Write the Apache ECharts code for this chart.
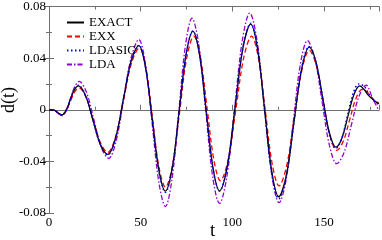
<!DOCTYPE html>
<html><head><meta charset="utf-8">
<script src="https://cdn.jsdelivr.net/npm/echarts@6/dist/echarts.min.js"></script>
<style>html,body{margin:0;padding:0;background:#fff}#c{width:382px;height:240px}</style>
</head><body><div id="c"></div>
<script>
const seriesNames = ['EXACT', 'EXX', 'LDASIC', 'LDA'];
const xTickLabels = ['0', '50', '100', '150'];
const yTickLabels = ['-0.08', '-0.04', '0', '0.04', '0.08'];

const exactT = [0, 3, 5, 7, 9.25, 11.5, 13.75, 16, 20, 24, 28, 32, 36.25, 40.5, 44.75, 49, 52.6, 56.25, 59.9, 63.5, 67.25, 71, 74.75, 78.5, 82.1, 85.75, 89.4, 93, 97.25, 101.5, 105.75, 110, 113.8, 117.65, 121.5, 125.3, 129.5, 133.65, 137.8, 142, 145.6, 149.25, 152.9, 156.5, 159.75, 163, 166.25, 169.5, 172, 174, 177, 180];
const exactV = [0, -0.0005, -0.0025, -0.004, -0.0007, 0.0073, 0.0152, 0.0185, 0.0107, -0.0081, -0.0268, -0.0346, -0.0223, 0.0076, 0.0374, 0.0497, 0.0332, -0.0067, -0.0465, -0.063, -0.0449, -0.0011, 0.0427, 0.0608, 0.0427, -0.001, -0.0447, -0.0628, -0.0439, 0.0018, 0.0475, 0.0664, 0.0468, -0.0005, -0.0478, -0.0674, -0.0504, -0.0095, 0.0315, 0.0485, 0.0371, 0.0098, -0.0176, -0.029, -0.022, -0.0053, 0.0115, 0.0185, 0.0155, 0.0115, 0.0075, 0.0046];

const exxT = [0, 3, 5, 7, 9.3, 11.65, 14, 16.3, 20.2, 24.15, 28.1, 32, 36.3, 40.65, 45, 49.3, 52.85, 56.4, 59.95, 63.5, 67.4, 71.25, 75.1, 79, 82.6, 86.25, 89.9, 93.5, 97.75, 102, 106.25, 110.5, 114.25, 118, 121.75, 125.5, 129.6, 133.75, 137.9, 142, 145.75, 149.5, 153.25, 157, 160.5, 164, 167.5, 171, 174, 177, 180];
const exxV = [0, -0.0005, -0.0026, -0.0042, -0.0011, 0.0064, 0.0139, 0.017, 0.0097, -0.008, -0.0257, -0.033, -0.0211, 0.0075, 0.0361, 0.048, 0.0322, -0.006, -0.0442, -0.06, -0.0429, -0.0015, 0.0399, 0.057, 0.0406, 0.001, -0.0386, -0.055, -0.0386, 0.001, 0.0406, 0.057, 0.040, -0.001, -0.042, -0.059, -0.0436, -0.0065, 0.0306, 0.046, 0.0347, 0.0073, -0.0201, -0.0315, -0.0245, -0.0078, 0.009, 0.016, 0.013, 0.008, 0.005];

const ldasicT = [0, 3, 5, 7, 9.25, 11.5, 13.75, 16, 20, 24, 28, 32, 36.25, 40.5, 44.75, 49, 52.6, 56.25, 59.9, 63.5, 67.25, 71, 74.75, 78.5, 82.1, 85.75, 89.4, 93, 97.25, 101.5, 105.75, 110, 113.8, 117.65, 121.5, 125.3, 129.4, 133.55, 137.7, 141.8, 145.5, 149.15, 152.8, 156.5, 159.6, 162.75, 165.9, 169, 172, 175, 178, 180];
const ldasicV = [0, -0.0005, -0.0025, -0.004, -0.0006, 0.0075, 0.0156, 0.019, 0.0111, -0.008, -0.0271, -0.035, -0.0226, 0.0075, 0.0376, 0.050, 0.0333, -0.007, -0.0473, -0.064, -0.0457, -0.0015, 0.0427, 0.061, 0.0428, -0.001, -0.0448, -0.063, -0.044, 0.002, 0.048, 0.067, 0.0471, -0.001, -0.0491, -0.069, -0.0517, -0.010, 0.0317, 0.049, 0.0374, 0.0095, -0.0184, -0.030, -0.0227, -0.005, 0.0127, 0.020, 0.018, 0.011, 0.006, 0.004];

const ldaT = [0, 3, 5, 7, 9.4, 11.75, 14.1, 16.5, 20.5, 24.5, 28.5, 32.5, 36.6, 40.75, 44.9, 49, 52.6, 56.25, 59.9, 63.5, 67.1, 70.75, 74.4, 78, 81.75, 85.5, 89.25, 93, 97.1, 101.25, 105.4, 109.5, 113.5, 117.5, 121.5, 125.5, 129.4, 133.25, 137.1, 141, 145, 149, 153, 157, 161, 165, 169, 173, 176.5, 180];
const ldaV = [0, -0.0005, -0.0028, -0.0045, -0.0006, 0.0088, 0.0181, 0.022, 0.0133, -0.0079, -0.029, -0.0377, -0.0242, 0.0084, 0.0409, 0.0544, 0.0354, -0.0103, -0.056, -0.075, -0.0536, -0.002, 0.0496, 0.071, 0.050, -0.0008, -0.0516, -0.0726, -0.051, 0.0012, 0.0533, 0.0749, 0.0534, 0.0015, -0.0505, -0.072, -0.0536, -0.0092, 0.0352, 0.0536, 0.0396, 0.0059, -0.0278, -0.0418, -0.0329, -0.0114, 0.0101, 0.019, 0.009, -0.001];

const pairs = (t, v) => t.map((x, i) => [x, v[i]]);
const font = 'Liberation Serif, Times New Roman, serif';
const axisGrey = '#707070';

const chart = echarts.init(document.getElementById('c'), null, {renderer: 'canvas'});
const baseX = {type: 'value', min: 0, max: 180, gridIndex: 0, splitLine: {show: false}};
const baseY = {type: 'value', min: -0.08, max: 0.08, interval: 0.04, splitLine: {show: false}};

const option = {
  animation: false,
  backgroundColor: '#fff',
  grid: {left: 49, right: 2, top: 5, bottom: 27},
  legend: {
    orient: 'vertical', left: 61, top: 11, itemWidth: 17, itemHeight: 10, itemGap: 1,
    data: seriesNames,
    itemStyle: {opacity: 0},
    textStyle: {fontFamily: font, fontSize: 13, color: '#000', lineHeight: 11}
  },
  xAxis: [
    Object.assign({}, baseX, {position: 'bottom', interval: 50,
      axisLine: {show: true, lineStyle: {color: axisGrey, width: 1}},
      axisTick: {show: true, inside: true, length: 5, lineStyle: {color: axisGrey}},
      axisLabel: {show: true, margin: 3, color: '#000', fontFamily: font, fontSize: 13,
        formatter: v => { const i = xTickLabels.indexOf(String(v)); return i >= 0 ? xTickLabels[i] : ''; }}}),
    Object.assign({}, baseX, {position: 'bottom', interval: 25,
      axisLine: {show: false}, axisLabel: {show: false},
      axisTick: {show: true, inside: true, length: 3, lineStyle: {color: axisGrey}}}),
    Object.assign({}, baseX, {position: 'top', interval: 50,
      axisLine: {show: true, lineStyle: {color: axisGrey, width: 1}}, axisLabel: {show: false},
      axisTick: {show: true, inside: true, length: 5, lineStyle: {color: axisGrey}}}),
    Object.assign({}, baseX, {position: 'top', interval: 25,
      axisLine: {show: false}, axisLabel: {show: false},
      axisTick: {show: true, inside: true, length: 3, lineStyle: {color: axisGrey}}})
  ],
  yAxis: [
    Object.assign({}, baseY, {position: 'left',
      axisLine: {show: true, lineStyle: {color: axisGrey, width: 1}},
      axisTick: {show: true, inside: true, length: 5, lineStyle: {color: axisGrey}},
      minorTick: {show: true, splitNumber: 2, length: 3, lineStyle: {color: axisGrey}},
      axisLabel: {show: true, margin: 3, color: '#000', fontFamily: font, fontSize: 13,
        formatter: v => { const s = (Math.abs(v) < 1e-9) ? '0' : v.toFixed(2); return yTickLabels.indexOf(s) >= 0 ? s : ''; }}}),
    Object.assign({}, baseY, {position: 'right',
      axisLine: {show: true, lineStyle: {color: axisGrey, width: 1}}, axisLabel: {show: false},
      axisTick: {show: true, inside: true, length: 5, lineStyle: {color: axisGrey}},
      minorTick: {show: true, splitNumber: 2, length: 3, lineStyle: {color: axisGrey}}})
  ],
  series: [
    {name: 'EXACT', type: 'line', data: pairs(exactT, exactV), smooth: 0.35, symbol: 'none', z: 4,
      lineStyle: {color: '#000', width: 1.3}, itemStyle: {color: '#000'}},
    {name: 'EXX', type: 'line', data: pairs(exxT, exxV), smooth: 0.35, symbol: 'none', z: 3,
      lineStyle: {color: '#ff0000', width: 1.3, type: [5, 3]}, itemStyle: {color: '#ff0000'}},
    {name: 'LDASIC', type: 'line', data: pairs(ldasicT, ldasicV), smooth: 0.35, symbol: 'none', z: 5,
      lineStyle: {color: '#0000ff', width: 1.5, type: [1.5, 2.5]}, itemStyle: {color: '#0000ff'}},
    {name: 'LDA', type: 'line', data: pairs(ldaT, ldaV), smooth: 0.35, symbol: 'none', z: 2,
      lineStyle: {color: '#9400d3', width: 1.3, type: [5, 2, 1.5, 2]}, itemStyle: {color: '#9400d3'}}
  ],
  graphic: [
    {type: 'text', left: 210, top: 222, style: {text: 't', font: '19px ' + font, fill: '#000'}},
    {type: 'text', x: 0, y: 113, rotation: Math.PI / 2, style: {text: 'd(t)', font: '18px ' + font, fill: '#000'}}
  ]
};
chart.setOption(option);
</script></body></html>
